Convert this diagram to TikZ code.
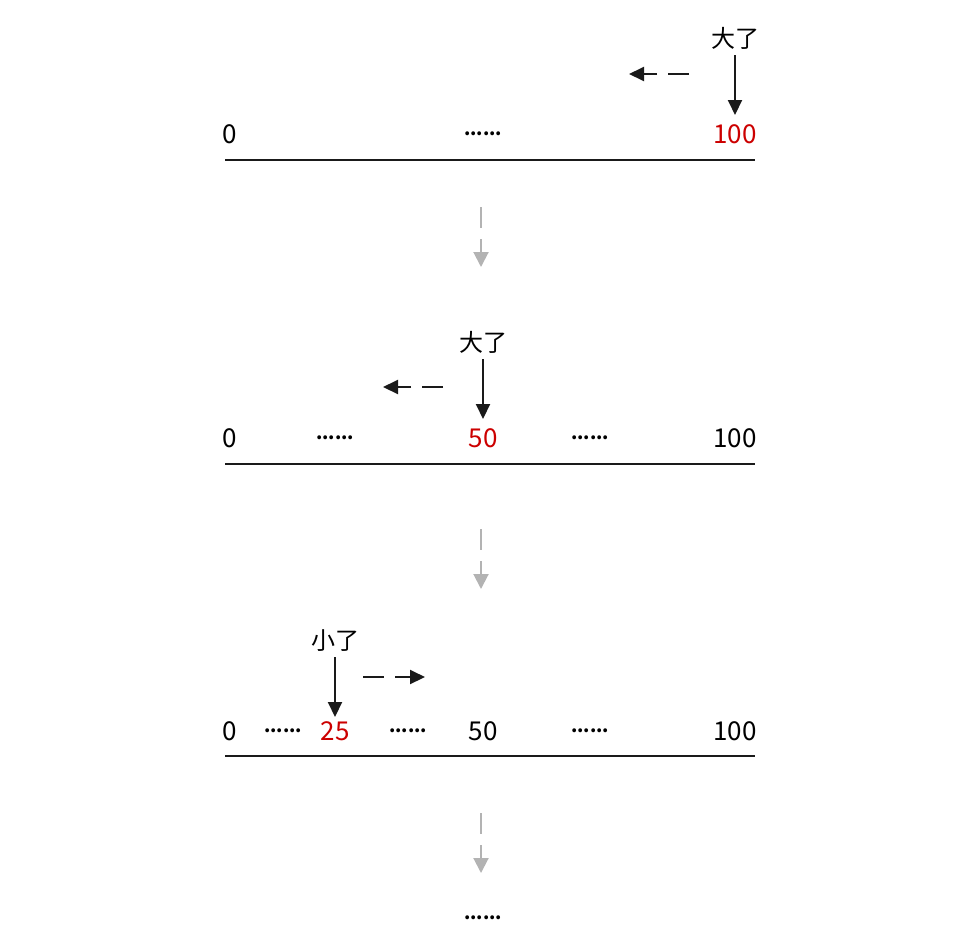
\documentclass[tikz,border=0pt]{standalone}
\usepackage{fontspec}
\setmainfont{Noto Sans CJK SC}
\usetikzlibrary{arrows.meta}
\definecolor{ink}{HTML}{1A1A1A}
\definecolor{hl}{HTML}{CC0000}
\definecolor{flow}{HTML}{B3B3B3}
\tikzset{
  lbl/.style={font=\fontsize{26}{30}\selectfont, inner sep=0pt, anchor=base, text=black},
  cjk/.style={lbl, font=\fontsize{24}{28}\selectfont},
  red/.style={lbl, text=hl},
  dots/.style={lbl, font=\fontsize{18}{22}\selectfont\bfseries},
  axis/.style={draw=ink, line width=2pt},
  ptr/.style={draw=ink, line width=2pt, -{Triangle[length=15pt,width=14pt]}},
  move/.style={draw=ink, line width=2pt, dash pattern=on 21pt off 11pt, -{Triangle[length=15pt,width=14pt]}},
  next/.style={draw=flow, line width=2pt, dash pattern=on 21pt off 11pt, -{Triangle[length=15pt,width=15pt]}, color=flow},
}
\begin{document}
\begin{tikzpicture}[x=1pt,y=-1pt]
\useasboundingbox (0,0) rectangle (976,948);
% row 1
\coordinate (a1l) at (225,160); \coordinate (a1r) at (755,160);
\draw[axis] (a1l) -- (a1r);
\node[lbl] (r1n0) at (230,143) {0};
\node[dots] (r1d) at (483,135) {......};
\node[red] (r1n100) at (735,143) {100};
\node[cjk] (r1big) at (735,47) {大了};
\coordinate (r1s) at (735,55); \coordinate (r1e) at (735,115);
\draw[ptr] (r1s) -- (r1e);
\coordinate (r1ms) at (689,74); \coordinate (r1me) at (629,74);
\draw[move] (r1ms) -- (r1me);
% flow 1
\coordinate (f1s) at (481,207); \coordinate (f1e) at (481,267);
\draw[next] (f1s) -- (f1e);
% row 2
\coordinate (a2l) at (225,464); \coordinate (a2r) at (755,464);
\draw[axis] (a2l) -- (a2r);
\node[lbl] (r2n0) at (230,447) {0};
\node[dots] (r2d1) at (335,439) {......};
\node[red] (r2n50) at (483,447) {50};
\node[dots] (r2d2) at (590,439) {......};
\node[lbl] (r2n100) at (735,447) {100};
\node[cjk] (r2big) at (483,351) {大了};
\coordinate (r2s) at (483,359); \coordinate (r2e) at (483,419);
\draw[ptr] (r2s) -- (r2e);
\coordinate (r2ms) at (443,387); \coordinate (r2me) at (383,387);
\draw[move] (r2ms) -- (r2me);
% flow 2
\coordinate (f2s) at (481,529); \coordinate (f2e) at (481,589);
\draw[next] (f2s) -- (f2e);
% row 3
\coordinate (a3l) at (225,756); \coordinate (a3r) at (755,756);
\draw[axis] (a3l) -- (a3r);
\node[lbl] (r3n0) at (230,740) {0};
\node[dots] (r3d1) at (283,732) {......};
\node[red] (r3n25) at (335,740) {25};
\node[dots] (r3d2) at (408,732) {......};
\node[lbl] (r3n50) at (483,740) {50};
\node[dots] (r3d3) at (590,732) {......};
\node[lbl] (r3n100) at (735,740) {100};
\node[cjk] (r3small) at (335,649) {小了};
\coordinate (r3s) at (335,657); \coordinate (r3e) at (335,717);
\draw[ptr] (r3s) -- (r3e);
\coordinate (r3ms) at (363,677); \coordinate (r3me) at (425,677);
\draw[move] (r3ms) -- (r3me);
% flow 3
\coordinate (f3s) at (481,813); \coordinate (f3e) at (481,873);
\draw[next] (f3s) -- (f3e);
\node[dots] (endd) at (483,919) {......};
\end{tikzpicture}
\end{document}
